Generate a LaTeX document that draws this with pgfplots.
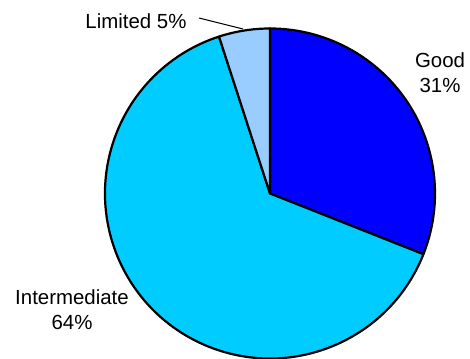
\documentclass[border=0pt]{standalone}
\usepackage{pgfplots}
\pgfplotsset{compat=1.18}
\usepackage{fontspec}
\setmainfont{Liberation Sans}
\definecolor{cGood}{HTML}{0000FF}
\definecolor{cInter}{HTML}{00CCFF}
\definecolor{cLim}{HTML}{99CCFF}
\begin{document}
\begin{tikzpicture}
\begin{axis}[width=470bp,height=358bp,scale only axis,
  xmin=0,xmax=470,ymin=0,ymax=358,hide axis,clip=false]
% values (percent): Good 31, Intermediate 64, Limited 5
\filldraw[fill=cGood,draw=black,line width=2.2bp,line join=round]
  (axis cs:270,164.5) -- ++(90:165bp) arc[start angle=90,end angle={90-3.6*31},radius=165bp] -- cycle;
\filldraw[fill=cInter,draw=black,line width=2.2bp,line join=round]
  (axis cs:270,164.5) -- ++({90-3.6*31}:165bp) arc[start angle={90-3.6*31},end angle={90-3.6*(31+64)},radius=165bp] -- cycle;
\filldraw[fill=cLim,draw=black,line width=2.2bp,line join=round]
  (axis cs:270,164.5) -- ++({90-3.6*95}:165bp) arc[start angle={90-3.6*95},end angle={90-3.6*100},radius=165bp] -- cycle;
\draw[line width=1bp] (axis cs:199,340) -- (axis cs:243,329);
\node[font=\fontsize{20.5}{25}\selectfont,align=center] at (axis cs:136,337) {Limited 5\%};
\node[font=\fontsize{20.5}{25}\selectfont,align=center] at (axis cs:440,285) {Good\\31\%};
\node[font=\fontsize{20.5}{25}\selectfont,align=center] at (axis cs:72,48) {Intermediate\\64\%};
\end{axis}
\pgfresetboundingbox
\path[use as bounding box] (current axis.south west) rectangle (current axis.north east);
\end{tikzpicture}
\end{document}
